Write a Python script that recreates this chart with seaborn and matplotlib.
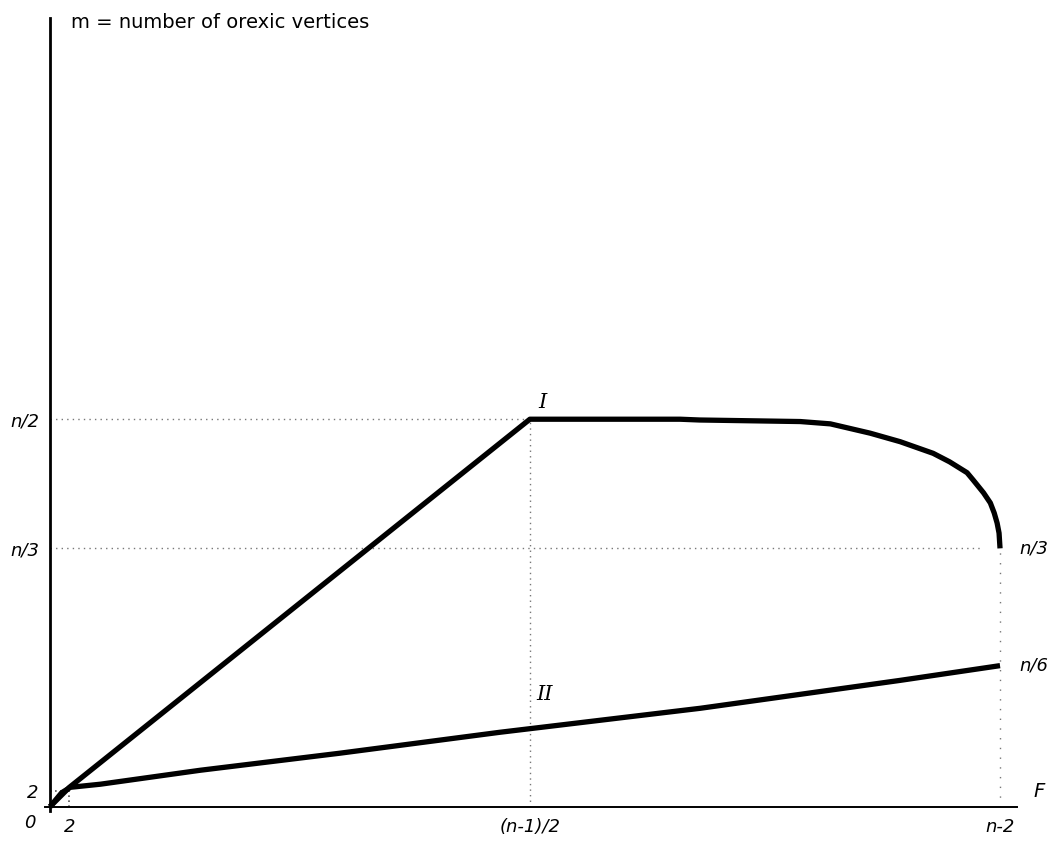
import matplotlib
matplotlib.use("Agg")
import matplotlib.pyplot as plt
import seaborn as sns
import pandas as pd

# Reference size used for the symbolic scale (n = 100)
n = 100

# Curve I: upper bound on the number of orexic vertices
curve1_f = [0.0, 2.0, 49.5, 65.0, 67.0, 77.4, 80.5, 84.6, 87.7, 91.1, 92.8, 94.6,
            95.2, 96.3, 97.0, 97.4, 97.7, 97.9, 98.0]
curve1_m = [0.0, 2.5, 50.0, 50.0, 49.9, 49.7, 49.4, 48.2, 47.1, 45.6, 44.5, 43.1,
            42.2, 40.5, 39.2, 37.9, 36.6, 35.3, n / 3]

# Curve II: lower bound
curve2_f = [0.0, 1.2, 2.1, 5.2, 15.5, 29.9, 46.4, 67.1, 87.7, 98.0]
curve2_m = [0.0, 1.8, 2.5, 2.9, 4.7, 6.9, 9.6, 12.7, 16.3, 18.2]

# Axis ticks
xtick_vals = [2, (n - 1) / 2, n - 2]
xtick_labels = ["2", "(n-1)/2", "n-2"]
ytick_vals = [2, n / 3, n / 2]
ytick_labels = ["2", "n/3", "n/2"]

df = pd.concat([
    pd.DataFrame({"f": curve1_f, "m": curve1_m, "curve": "I"}),
    pd.DataFrame({"f": curve2_f, "m": curve2_m, "curve": "II"}),
], ignore_index=True)

sns.set_style("white")
plt.rcParams["font.family"] = ["DejaVu Sans"]

fig = plt.figure(figsize=(10.58, 8.41), dpi=100)
ax = fig.add_axes([0, 0, 1, 1])
ax.set_xlim(-5.16, 103.98)
ax.set_ylim(-4.43, 104.1)

# guide lines
dot = dict(color="#777777", lw=1.0, linestyle=(0, (1, 3)), zorder=1)
ax.plot([0, (n - 1) / 2], [n / 2, n / 2], **dot)
ax.plot([(n - 1) / 2, (n - 1) / 2], [0, n / 2], **dot)
ax.plot([0, 96.0], [n / 3, n / 3], **dot)
ax.plot([n - 2, n - 2], [0, n / 3], color="#777777", lw=1.0, linestyle=(0, (1, 6)), zorder=1)
ax.plot([0, 2], [2, 2], color="#555555", lw=1.2, linestyle=(0, (1, 2)), zorder=1)
ax.plot([2, 2], [0, 2], color="#555555", lw=1.2, linestyle=(0, (1, 2)), zorder=1)

sns.lineplot(data=df, x="f", y="m", hue="curve", units="curve", estimator=None,
             sort=False, palette={"I": "black", "II": "black"}, linewidth=3.8,
             legend=False, ax=ax, zorder=3)
for line in ax.lines[-2:]:
    line.set_solid_capstyle("butt")
    line.set_solid_joinstyle("round")

# axes drawn as spines through the origin
for side in ["top", "right"]:
    ax.spines[side].set_visible(False)
ax.spines["left"].set_position(("data", 0))
ax.spines["bottom"].set_position(("data", 0))
ax.spines["left"].set_bounds(-0.5, 101.8)
ax.spines["bottom"].set_bounds(-0.5, 99.8)
ax.spines["left"].set_linewidth(2.0)
ax.spines["bottom"].set_linewidth(1.4)
ax.spines["left"].set_color("black")
ax.spines["bottom"].set_color("black")

ax.set_xticks(xtick_vals)
ax.set_xticklabels(xtick_labels)
ax.set_yticks(ytick_vals)
ax.set_yticklabels(ytick_labels)
ax.tick_params(axis="both", direction="out", length=4, width=1.4, colors="black",
               labelsize=13, pad=4)
for lab in ax.get_xticklabels() + ax.get_yticklabels():
    lab.set_fontstyle("italic")
ax.set_xlabel("")
ax.set_ylabel("")

txt = dict(fontsize=13, color="black", fontstyle="italic")
ax.text(-1.5, -1.0, "0", ha="right", va="top", **txt)
ax.text(2.2, 101.2, "m = number of orexic vertices", ha="left", va="center", fontsize=14,
        color="black")
ax.text(101.5, n / 3, "n/3", ha="center", va="center", **txt)
ax.text(101.5, 18.2, "n/6", ha="center", va="center", **txt)
ax.text(102.0, 2.0, "F", ha="center", va="center", fontsize=14, color="black",
        fontstyle="italic")
ax.text(50.8, 52.2, "I", ha="center", va="center", fontsize=15, family="DejaVu Serif",
        fontstyle="italic", color="black")
ax.text(51.0, 14.5, "II", ha="center", va="center", fontsize=15, family="DejaVu Serif",
        fontstyle="italic", color="black")

fig.savefig("out.png", dpi=100, facecolor="white")
